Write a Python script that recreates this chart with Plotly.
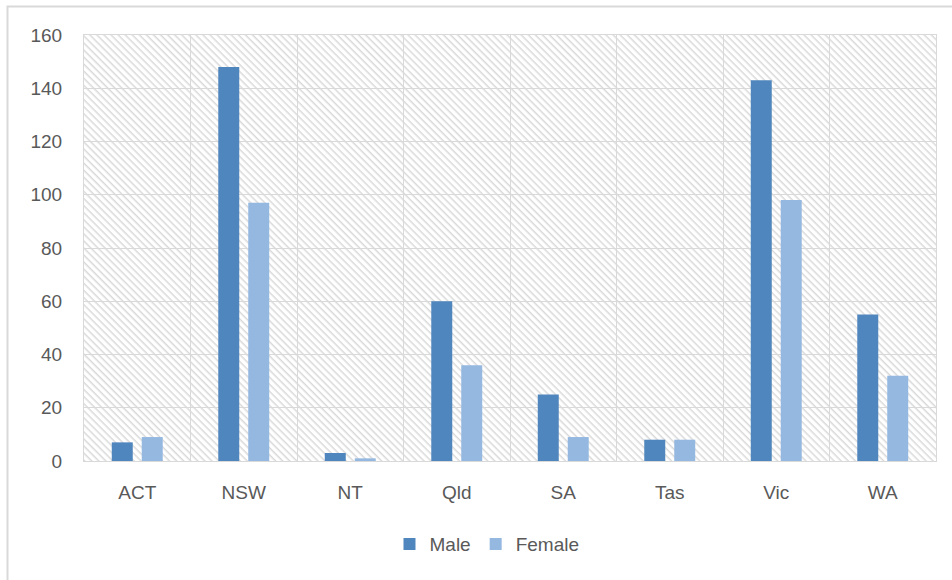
import base64
import plotly.graph_objects as go

categories = ["ACT", "NSW", "NT", "Qld", "SA", "Tas", "Vic", "WA"]
male = [7, 148, 3, 60, 25, 8, 143, 55]
female = [9, 97, 1, 36, 9, 8, 98, 32]
y_ticks = [0, 20, 40, 60, 80, 100, 120, 140, 160]

W, H = 952, 580
L, R, T, B = 84, 16, 35, 119
PW, PH = W - L - R, H - T - B

svg = f'''<svg xmlns="http://www.w3.org/2000/svg" width="{PW}" height="{PH}" viewBox="0 0 {PW} {PH}" preserveAspectRatio="none">
<defs><pattern id="h" patternUnits="userSpaceOnUse" width="10" height="5" patternTransform="rotate(45)">
<rect x="0" y="0" width="10" height="1.5" fill="#d9d9d9"/></pattern></defs>
<rect x="0" y="0" width="{PW}" height="{PH}" fill="white"/>
<rect x="0" y="0" width="{PW}" height="{PH}" fill="url(#h)"/></svg>'''
svg_uri = "data:image/svg+xml;base64," + base64.b64encode(svg.encode()).decode()

font = dict(family="Liberation Sans, Arial, sans-serif", size=19, color="#595959")

fig = go.Figure()
fig.add_trace(go.Bar(name="Male", x=categories, y=male, marker=dict(color="#4f86bd", line=dict(width=0))))
fig.add_trace(go.Bar(name="Female", x=categories, y=female, marker=dict(color="#95b8e0", line=dict(width=0))))

fig.update_layout(
    width=W, height=H,
    margin=dict(l=L, r=R, t=T, b=B, pad=0),
    paper_bgcolor="white",
    plot_bgcolor="rgba(0,0,0,0)",
    barmode="group",
    bargap=0.437,
    bargroupgap=0.3,
    font=font,
    showlegend=True,
    legend=dict(orientation="h", x=0.473, xanchor="center", y=-0.195, yanchor="middle",
                font=font, itemwidth=30, traceorder="normal"),
    images=[dict(source=svg_uri, xref="paper", yref="paper", x=0, y=1, sizex=1, sizey=1,
                 sizing="stretch", layer="below", xanchor="left", yanchor="top")],
    shapes=[dict(type="rect", xref="paper", yref="paper",
                 x0=(7.5 - L) / PW, x1=(W + 10 - L) / PW,
                 y0=-(H + 10 - T - PH) / PH, y1=(T + PH - 6.5) / PH,
                 line=dict(color="#d9d9d9", width=2), fillcolor="rgba(0,0,0,0)", layer="below")],
)
fig.update_xaxes(type="category", tickson="boundaries", showgrid=True, gridcolor="#d9d9d9", gridwidth=1,
                 showline=True, linecolor="#d9d9d9", linewidth=1, mirror=True,
                 ticks="", ticklabelstandoff=14, tickfont=font, fixedrange=True)
fig.update_yaxes(range=[0, 160], tickvals=y_ticks, showgrid=True, gridcolor="#d9d9d9", gridwidth=1,
                 showline=True, linecolor="#d9d9d9", linewidth=1, mirror=True, zeroline=False,
                 ticks="", ticklabelstandoff=17, tickfont=font, fixedrange=True)

fig.write_html("out.html", config={"displayModeBar": False, "staticPlot": True})

with open("out.html", encoding="utf-8") as f:
    html = f.read()
html = html.replace("<body>", '<body style="margin:0;padding:0;overflow:hidden">', 1)
with open("out.html", "w", encoding="utf-8") as f:
    f.write(html)
